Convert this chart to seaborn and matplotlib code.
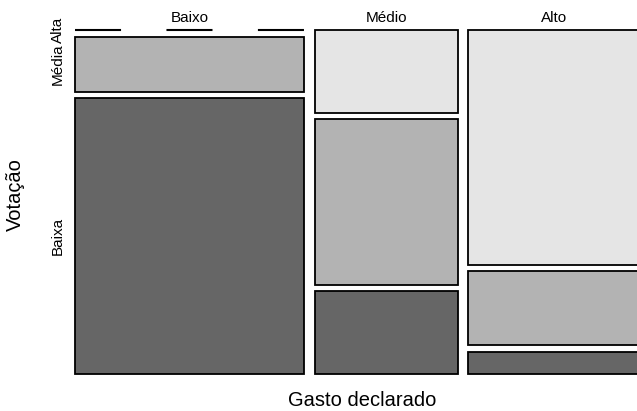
import numpy as np
import matplotlib
matplotlib.use("Agg")
import matplotlib.pyplot as plt
import seaborn as sns

sns.set_style("white")
plt.rcParams['font.family'] = ['Liberation Sans', 'DejaVu Sans']
plt.rcParams['text.color'] = 'black'

gasto = ["Baixo", "Médio", "Alto"]
votacao = ["Alta", "Média", "Baixa"]          # top to bottom
counts_alta = [0, 28, 95]
counts_media = [30, 56, 30]
counts_baixa = [150, 28, 9]

colors = {"Alta": "#e5e5e5", "Média": "#b3b3b3", "Baixa": "#666666"}

fig = plt.figure(figsize=(6.37, 4.11), dpi=100)
ax = fig.add_axes([75/637, (411-374)/411, (639-75)/637, (374-30)/411])

table = np.array([counts_alta, counts_media, counts_baixa], dtype=float)  # rows: votacao
col_tot = table.sum(axis=0)
xgap = 0.0185
ygap = 0.019
xw = col_tot / col_tot.sum() * (1 - xgap * (len(gasto) - 1))
x0 = np.concatenate([[0], np.cumsum(xw + xgap)[:-1]])

for j, g in enumerate(gasto):
    props = table[:, j] / col_tot[j]
    h = props * (1 - ygap * (len(votacao) - 1))
    # stack from bottom: Baixa, Média, Alta
    y = 0.0
    for i in reversed(range(len(votacao))):
        v = votacao[i]
        if table[i, j] == 0:
            ax.plot([x0[j], x0[j] + xw[j]], [y, y], color="black", lw=1.5,
                    linestyle=(0, (22.1, 21.8)), solid_capstyle="butt",
                    dash_capstyle="butt", clip_on=False)
        else:
            ax.bar(x0[j], h[i], width=xw[j], bottom=y, align="edge",
                   color=colors[v], edgecolor="black", linewidth=1.3, clip_on=False)
        y += h[i] + ygap
    ax.text(x0[j] + xw[j] / 2, 1.022, g, ha="center", va="baseline", fontsize=11, color="black")

# row labels from first column
props0 = table[:, 0] / col_tot[0]
h0 = props0 * (1 - ygap * (len(votacao) - 1))
y = 0.0
for i in reversed(range(len(votacao))):
    ax.text(-0.018, y + h0[i] / 2, votacao[i], rotation=90, ha="right", va="center",
            fontsize=11, color="black")
    y += h0[i] + ygap

ax.set_xlim(0, 1)
ax.set_ylim(0, 1)
ax.axis("off")
fig.text(362/637, 1 - 400/411, "Gasto declarado", ha="center", va="center", fontsize=14.5, color="black")
fig.text(15/637, 1 - 195/411, "Votação", ha="center", va="center", rotation=90, fontsize=14.5, color="black")

fig.savefig("out.png", dpi=100)
